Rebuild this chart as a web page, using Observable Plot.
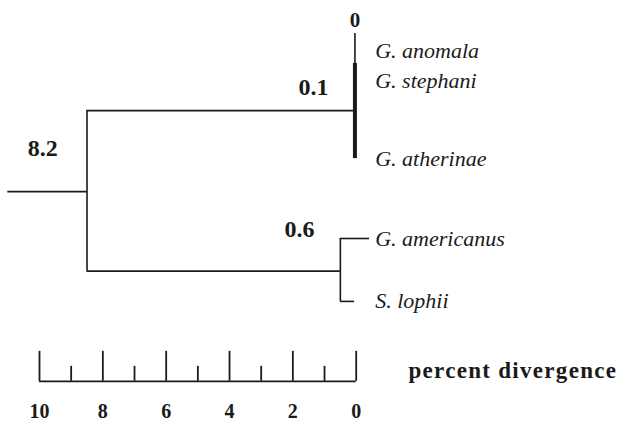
<!DOCTYPE html>
<html>
<head>
<meta charset="utf-8">
<script src="https://cdn.jsdelivr.net/npm/d3@7"></script>
<script src="https://cdn.jsdelivr.net/npm/@observablehq/plot@0.6"></script>
<style>
  html, body { margin: 0; padding: 0; background: #fff; }
  #chart svg { display: block; }
</style>
</head>
<body>
<div id="chart"></div>
<script>
// ---- Data ----
// Leaves (taxa), vertical row position, and tip divergence
const leaves   = ["G. anomala", "G. stephani", "G. atherinae", "G. americanus", "S. lophii"];
const leafRow  = [1.47, 2.38, 4.65, 7.0, 8.85];
const leafTip  = [0.04, 0.04, 0.04, -0.42, 0.05];

// Internal nodes: divergence position, row, label and label anchor
const nodeNames   = ["root", "A", "B"];
const nodeX       = [8.5, 0.04, 0.5];
const nodeRow     = [5.62, 3.24, 7.96];
const nodeLabels  = ["8.2", "0.1", "0.6"];
const nodeLabelX  = [9.9, 1.35, 1.79];
const nodeLabelRow= [4.35, 2.56, 6.74];
const rootStart   = 11.0;

// Clade A vertical: thin upper part and thick lower part
const cladeATop   = 0.97;
const cladeAThick = 1.85;
const topLabel    = "0";
const topLabelRow = 0.59;

// Scale bar
const majorTicks = [10, 8, 6, 4, 2, 0];
const minorTicks = [9, 7, 5, 3, 1];
const tickLabels = ["10", "8", "6", "4", "2", "0"];
const barRow = 11.2, majorTopRow = 10.32, minorTopRow = 10.76, tickLabelRow = 12.1;
const axisTitle = "percent divergence";
const axisTitleX = -1.65, axisTitleRow = 10.88;

// ---- Build segments ----
const root = {x: nodeX[0], y: nodeRow[0]};
const A = {x: nodeX[1], y: nodeRow[1]};
const B = {x: nodeX[2], y: nodeRow[2]};

const hSegs = [
  {x1: rootStart, x2: root.x, y: root.y},
  {x1: root.x, x2: A.x, y: A.y},
  {x1: root.x, x2: B.x, y: B.y},
  {x1: B.x, x2: leafTip[3], y: leafRow[3]},
  {x1: B.x, x2: leafTip[4], y: leafRow[4]}
];
const vSegs = [
  {x: root.x, y1: A.y, y2: B.y},
  {x: B.x, y1: leafRow[3], y2: leafRow[4]},
  {x: A.x, y1: cladeATop, y2: cladeAThick}
];
const thickSegs = [{x: A.x, y1: cladeAThick, y2: leafRow[2]}];

const leafData = leaves.map((name, i) => ({name, row: leafRow[i]}));
const nodeLabelData = nodeLabels.map((t, i) => ({t, x: nodeLabelX[i], row: nodeLabelRow[i]}));

const serif = "'Liberation Serif', 'Times New Roman', serif";
const ink = "#1a1a1a";

const chart = Plot.plot({
  width: 621,
  height: 427,
  margin: 0,
  x: {domain: [10, 0], range: [39, 355.7], axis: null},
  y: {domain: [0, 12.5], range: [0, 425], axis: null},
  style: {fontFamily: serif, background: "#fff", color: ink},
  marks: [
    // tree
    Plot.ruleY(hSegs, {x1: "x1", x2: "x2", y: "y", stroke: ink, strokeWidth: 1.6}),
    Plot.ruleX(vSegs, {x: "x", y1: "y1", y2: "y2", stroke: ink, strokeWidth: 1.6}),
    Plot.ruleX(thickSegs, {x: "x", y1: "y1", y2: "y2", stroke: ink, strokeWidth: 4}),
    // leaf labels
    Plot.text(leafData, {x: () => 0, y: "row", text: "name", textAnchor: "start", dx: 19,
      fontSize: 22, fontStyle: "italic", fill: ink}),
    // node labels
    Plot.text(nodeLabelData, {x: "x", y: "row", text: "t", fontSize: 24, fontWeight: "bold", fill: ink}),
    Plot.text([topLabel], {x: () => A.x, y: () => topLabelRow, text: d => d, fontSize: 21, fontWeight: "bold", fill: ink}),
    // scale bar
    Plot.ruleY([barRow], {x1: majorTicks[0], x2: majorTicks[majorTicks.length - 1], y: d => d, stroke: ink, strokeWidth: 1.8}),
    Plot.ruleX(majorTicks, {x: d => d, y1: () => majorTopRow, y2: () => barRow, stroke: ink, strokeWidth: 1.8}),
    Plot.ruleX(minorTicks, {x: d => d, y1: () => minorTopRow, y2: () => barRow, stroke: ink, strokeWidth: 1.8}),
    Plot.text(tickLabels, {x: (d, i) => majorTicks[i], y: () => tickLabelRow, text: d => d,
      fontSize: 20, fontWeight: "bold", fill: ink}),
    Plot.text([axisTitle], {x: () => axisTitleX, y: () => axisTitleRow, text: d => d, textAnchor: "start",
      fontSize: 23, fontWeight: "bold", fill: ink})
  ]
});
document.getElementById("chart").appendChild(chart);
// widen the axis title slightly, as in the reference lettering
d3.select(chart).selectAll("text").filter(function () { return this.textContent === axisTitle; })
  .style("letter-spacing", "1.3px");
</script>
</body>
</html>
